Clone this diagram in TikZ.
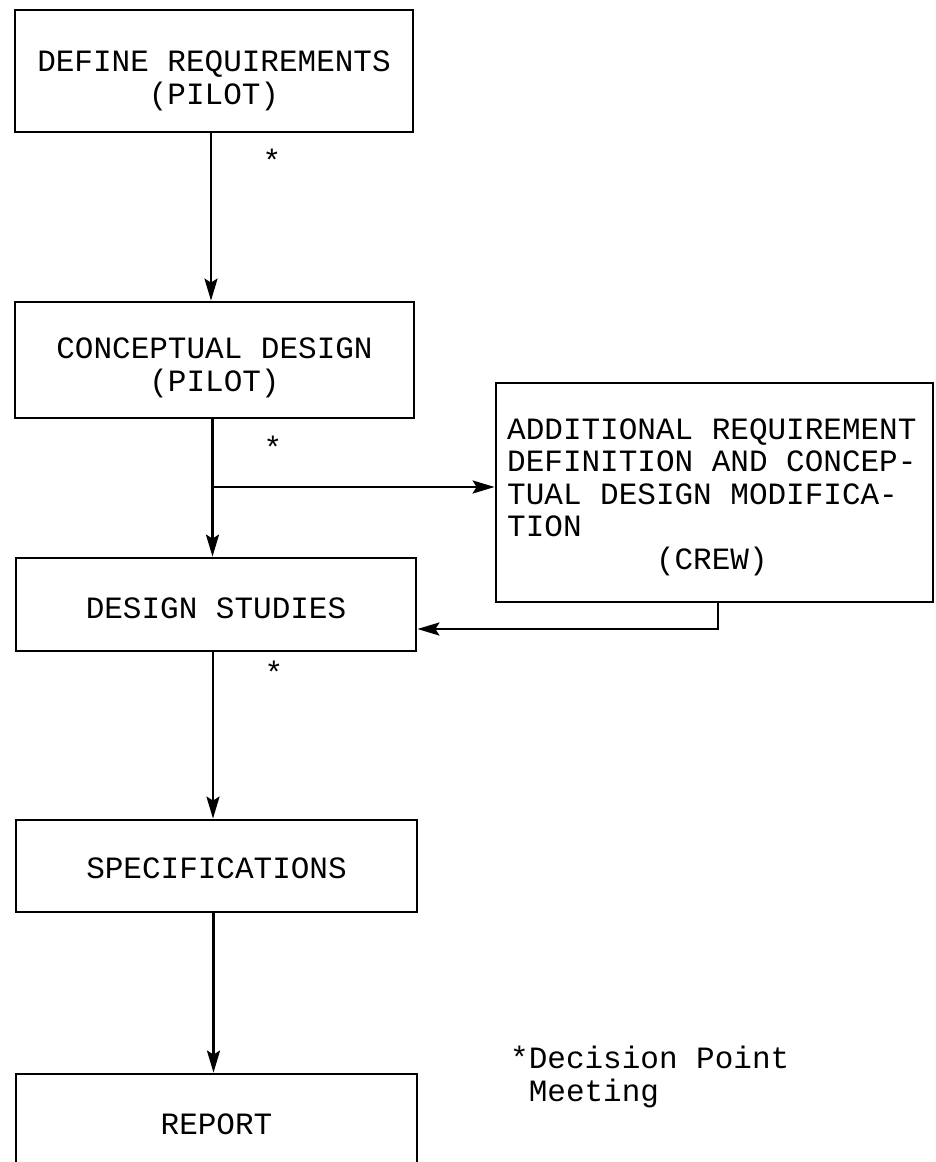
\documentclass[tikz,border=0pt]{standalone}
\usepackage{fontspec}
\setmainfont{Liberation Mono}
\usetikzlibrary{arrows.meta}
\begin{document}
\begin{tikzpicture}[x=1pt,y=-1pt,
  every node/.style={font=\fontsize{31}{32.5}\selectfont, inner sep=0pt},
  box/.style={draw, line width=2.8pt, rectangle, align=center},
  conn/.style={line width=2.6pt, -{Stealth[length=22pt,width=13pt,inset=4pt]}},
  starlbl/.style={anchor=center}]
\useasboundingbox (0,0) rectangle (935,1162);
\clip (0,0) rectangle (935,1162);
\fill[white] (0,0) rectangle (935,1162);

\node[box, minimum width=398pt, minimum height=122pt] (b1) at (214,71) {};
\node (t1) at (214,81) [align=center] {DEFINE REQUIREMENTS\\(PILOT)};

\node[box, minimum width=399pt, minimum height=116pt] (b2) at (214.5,360) {};
\node (t2) at (214.5,368) [align=center] {CONCEPTUAL DESIGN\\(PILOT)};

\node[box, minimum width=400pt, minimum height=93pt] (b3) at (216,604.5) {};
\node (t3) at (216,608) {DESIGN STUDIES};

\node[box, minimum width=437pt, minimum height=219pt] (b4) at (714.5,492.5) {};
\node (t4) [anchor=west, align=left] at (507,497) {ADDITIONAL REQUIREMENT\\DEFINITION AND CONCEP-\\TUAL DESIGN MODIFICA-\\TION\\\phantom{XXXXXXXX}(CREW)};

\node[box, minimum width=401pt, minimum height=92pt] (b5) at (216.5,866) {};
\node (t5) at (216.5,868) {SPECIFICATIONS};

\node[box, minimum width=401pt, minimum height=101pt] (b6) at (216.5,1124.5) {};
\node (t6) at (216.5,1124) {REPORT};

% connectors
\coordinate (c1) at ([xshift=-3pt]b1.south);
\draw[conn] (c1) -- (c1 |- b2.north);

\coordinate (c2) at ([xshift=-2pt]b2.south);
\coordinate (br) at (c2 |- 0,487);
\draw[conn] (c2) -- (c2 |- b3.north);
\draw[conn] (br) -- (br -| b4.west);

\coordinate (fb) at (718,629);
\draw[conn] (fb |- b4.south) -- (fb) -- (fb -| b3.east);

\coordinate (c3) at ([xshift=-3pt]b3.south);
\draw[conn] (c3) -- (c3 |- b5.north);

\coordinate (c5) at ([xshift=-3pt]b5.south);
\draw[conn] (c5) -- (c5 |- b6.north);

% decision stars
\node[starlbl] (s1) at (272,160) {*};
\node[starlbl] (s2) at (273,447) {*};
\node[starlbl] (s3) at (274,672) {*};

% legend
\node (leg) [anchor=west, align=left] at (510,1077) {*Decision Point\\\hspace*{0.6em}Meeting};
\end{tikzpicture}
\end{document}
